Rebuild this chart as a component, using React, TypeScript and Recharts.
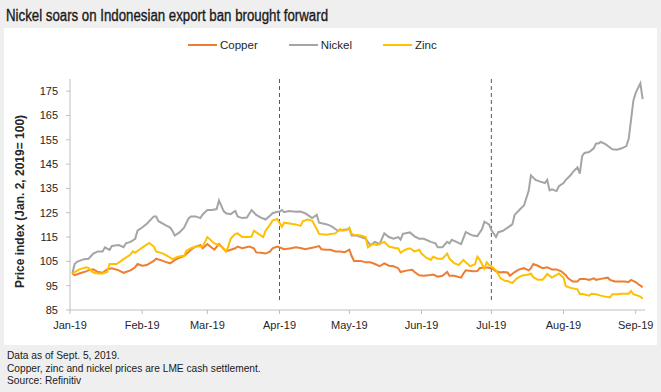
import { LineChart, Line, XAxis, YAxis, ReferenceLine, Legend } from "recharts";

// ── Data (day = days since Jan 1, 2019; value = price index, Jan 2 = 100) ──

const monthTicks = [0, 31, 59, 90, 120, 151, 181, 212, 243];
const monthLabels = ["Jan-19", "Feb-19", "Mar-19", "Apr-19", "May-19", "Jun-19", "Jul-19", "Aug-19", "Sep-19"];
const yTicks = [85, 95, 105, 115, 125, 135, 145, 155, 165, 175];
const markerDays = [90, 181];

const copper: [number, number][] = [
  [1, 100], [2, 99.3], [4, 100.0], [6, 100.6], [8, 101.3], [10, 101.7], [12, 100.6], [14, 100.3],
  [16, 101.7], [18, 102.2], [21, 101.3], [23, 100.3], [26, 101.3], [28, 102.6], [29, 103.9], [31, 103.2],
  [33, 103.5], [36, 105.2], [37, 106.1], [39, 105.5], [41, 104.8], [43, 104.2], [45, 105.5], [47, 106.5],
  [49, 107.2], [52, 109.8], [54, 111.1], [56, 111.7], [57, 110.4], [59, 112.1], [62, 109.8], [64, 112.1],
  [65, 111.1], [67, 109.1], [69, 109.8], [71, 110.4], [72, 111.1], [74, 110.4], [77, 111.1], [79, 110.4],
  [80, 108.7], [82, 108.5], [84, 108.2], [86, 109.1], [87, 110.4], [89, 111.1], [91, 110.4], [92, 110.0],
  [95, 110.4], [97, 110.8], [99, 110.5], [101, 110.0], [103, 110.4], [105, 110.8], [107, 111.3], [108, 110.0],
  [110, 109.8], [112, 109.8], [114, 109.1], [116, 109.1], [118, 108.8], [120, 109.8], [121, 107.2], [122, 105.2],
  [125, 105.2], [127, 104.6], [129, 104.6], [131, 103.9], [133, 103.0], [135, 104.2], [137, 103.2], [139, 103.0],
  [141, 102.2], [142, 100.6], [145, 101.3], [147, 101.5], [148, 100.6], [150, 99.3], [152, 99.1], [155, 99.4],
  [156, 99.6], [158, 98.7], [160, 99.1], [162, 100.6], [163, 99.1], [165, 99.1], [168, 98.3], [169, 100.0],
  [170, 101.3], [173, 100.9], [175, 101.0], [176, 102.2], [178, 102.6], [180, 102.4], [182, 101.7], [183, 100.9],
  [185, 100.4], [186, 100.6], [188, 100.4], [189, 99.1], [191, 100.6], [193, 101.7], [195, 102.2], [197, 101.3],
  [198, 102.2], [199, 103.9], [201, 103.2], [203, 102.2], [205, 102.6], [207, 101.7], [209, 101.7], [211, 100.9],
  [213, 99.3], [214, 98.0], [216, 96.7], [218, 96.7], [219, 97.8], [221, 97.8], [223, 97.4], [225, 98.0],
  [226, 97.4], [228, 97.8], [231, 98.3], [232, 97.4], [234, 96.7], [236, 96.7], [238, 96.7], [240, 96.5],
  [241, 97.4], [243, 96.5], [244, 95.7], [246, 94.4],
];

const nickel: [number, number][] = [
  [1, 100], [2, 103.9], [3, 104.8], [6, 105.9], [8, 106.1], [10, 108.2], [12, 109.1], [14, 109.1],
  [15, 110.8], [17, 109.7], [18, 111.3], [21, 111.7], [23, 110.8], [24, 112.4], [26, 113.0], [28, 114.3],
  [29, 117.6], [31, 118.9], [33, 120.5], [36, 123.5], [37, 123.5], [38, 121.5], [41, 119.9], [43, 118.9],
  [44, 117.6], [45, 115.6], [47, 116.9], [49, 118.9], [51, 122.8], [52, 123.5], [54, 123.5], [56, 122.8],
  [57, 124.3], [59, 126.1], [61, 126.1], [63, 126.5], [64, 130.0], [66, 125.7], [67, 124.8], [69, 124.4],
  [71, 125.7], [72, 123.5], [74, 122.8], [76, 123.0], [78, 126.1], [80, 124.1], [82, 123.0], [84, 122.2],
  [86, 123.9], [87, 124.8], [89, 125.4], [90, 125.4], [91, 126.1], [92, 125.2], [94, 125.7], [97, 125.4],
  [99, 125.5], [101, 124.8], [103, 123.5], [104, 122.8], [106, 124.1], [107, 120.9], [110, 120.3], [112, 119.6],
  [114, 118.3], [115, 117.6], [117, 117.9], [120, 118.3], [121, 115.6], [123, 115.6], [125, 115.0], [127, 114.3],
  [129, 111.7], [131, 113.0], [133, 112.1], [135, 116.5], [137, 115.0], [139, 114.3], [141, 115.0], [142, 113.9],
  [143, 116.3], [146, 116.9], [148, 115.3], [150, 114.3], [152, 114.3], [155, 113.0], [157, 112.4], [158, 110.8],
  [160, 110.8], [162, 113.0], [163, 112.4], [164, 113.9], [166, 113.0], [168, 112.1], [170, 117.0], [173, 115.6],
  [175, 115.4], [177, 118.3], [178, 121.3], [180, 120.2], [181, 117.9], [183, 115.0], [184, 117.0], [186, 117.6],
  [188, 118.9], [190, 120.2], [191, 124.1], [193, 126.1], [195, 128.0], [197, 133.9], [198, 140.4], [200, 138.5],
  [202, 137.8], [204, 137.2], [205, 138.5], [206, 134.2], [207, 134.6], [209, 133.9], [210, 135.9], [212, 137.2],
  [213, 138.5], [215, 140.4], [216, 141.7], [218, 143.7], [219, 141.1], [220, 148.3], [221, 149.6], [223, 150.0],
  [225, 151.5], [226, 153.5], [227, 153.5], [228, 154.1], [230, 153.2], [233, 151.1], [235, 150.9], [237, 151.5],
  [239, 152.4], [240, 155.4], [241, 163.2], [242, 171.1], [243, 174.3], [245, 178.2], [246, 171.7],
];

const zinc: [number, number][] = [
  [1, 100], [2, 100.6], [4, 101.7], [7, 102.6], [8, 102.2], [10, 100.4], [12, 100.0], [14, 100.0],
  [16, 100.6], [17, 103.9], [20, 103.9], [22, 105.2], [23, 105.9], [26, 107.8], [27, 109.1], [28, 108.5],
  [30, 110.0], [32, 111.3], [34, 112.6], [36, 111.1], [37, 109.1], [40, 108.2], [42, 107.2], [44, 105.9],
  [46, 106.8], [48, 107.2], [49, 107.2], [50, 109.4], [52, 110.4], [54, 111.1], [57, 111.1], [58, 113.0],
  [59, 115.0], [62, 112.4], [64, 111.7], [66, 110.4], [67, 109.1], [68, 111.1], [69, 114.3], [71, 116.3],
  [72, 116.5], [74, 115.0], [77, 115.0], [78, 115.2], [79, 117.6], [81, 116.3], [83, 115.0], [84, 117.6],
  [86, 120.2], [87, 121.8], [89, 122.4], [91, 119.2], [92, 120.9], [95, 120.5], [97, 120.2], [99, 119.6],
  [100, 121.5], [102, 122.2], [104, 121.8], [106, 118.3], [107, 116.3], [110, 116.0], [112, 116.3], [114, 116.5],
  [116, 118.3], [117, 117.6], [119, 117.9], [120, 118.9], [121, 116.3], [122, 116.0], [125, 115.6], [127, 115.0],
  [128, 110.8], [130, 112.1], [132, 111.7], [134, 112.6], [135, 113.0], [137, 111.1], [140, 110.4], [141, 110.4],
  [142, 108.5], [144, 109.8], [146, 110.4], [148, 109.1], [150, 109.8], [151, 108.2], [153, 106.5], [155, 105.6],
  [156, 106.9], [158, 106.1], [160, 106.1], [162, 108.2], [163, 106.1], [165, 104.3], [167, 103.5], [169, 105.6],
  [170, 104.6], [172, 103.0], [174, 103.9], [175, 106.9], [176, 105.6], [178, 102.0], [179, 104.6], [180, 103.5],
  [181, 103.0], [183, 101.3], [185, 98.0], [187, 96.9], [188, 96.9], [190, 96.1], [192, 98.0], [194, 99.1],
  [197, 99.6], [198, 100.0], [199, 98.5], [201, 97.4], [203, 97.4], [205, 99.8], [207, 98.3], [209, 99.4],
  [210, 100.0], [212, 98.3], [213, 94.8], [215, 94.1], [218, 93.5], [219, 91.5], [220, 91.7], [223, 90.9],
  [224, 91.7], [226, 91.5], [228, 90.9], [230, 90.5], [232, 90.2], [233, 91.5], [235, 91.5], [237, 91.7],
  [240, 91.7], [241, 92.8], [242, 91.5], [243, 91.2], [245, 90.5], [246, 89.6],
];

const series = [
  { name: "Copper", color: "#ED7D31", points: copper },
  { name: "Nickel", color: "#A5A5A5", points: nickel },
  { name: "Zinc", color: "#FFC000", points: zinc },
];

const toRows = (pts: [number, number][]) => pts.map(([day, value]) => ({ day, value }));

const FONT = "'Liberation Sans', Arial, sans-serif";
const TEXT = "#262626";

// ── Pieces ───────────────────────────────────────────────────────────────────

function LegendRow() {
  return (
    <div style={{ display: "flex", justifyContent: "flex-start", paddingLeft: 188 }}>
      {series.map((s, i) => (
        <div key={s.name} style={{ display: "flex", alignItems: "center", marginRight: i < 2 ? 31 : 0, fontFamily: FONT, fontSize: 11.5, color: TEXT }}>
          <span style={{ display: "inline-block", width: 29, height: 2, background: s.color, marginRight: 3 }} />
          {s.name}
        </div>
      ))}
    </div>
  );
}

function DashedMarker(p: any) {
  return <line x1={p.x1} x2={p.x2} y1={p.y1 - 10} y2={p.y2} stroke="#595959" strokeWidth={1} strokeDasharray="4 3" />;
}

function AxisTitle(p: any) {
  const vb = p.viewBox || { y: 67, height: 243 };
  const cx = 20;
  const cy = vb.y + vb.height / 2 + 7;
  return (
    <text x={cx} y={cy} transform={`rotate(-90, ${cx}, ${cy})`} textAnchor="middle" dominantBaseline="central"
      style={{ fontFamily: FONT, fontSize: 12, fontWeight: 700, fill: TEXT }}>
      Price index (Jan. 2, 2019= 100)
    </text>
  );
}

// ── Main ─────────────────────────────────────────────────────────────────────

export default function App() {
  return (
    <div style={{ position: "absolute", left: 0, top: 0, width: 661, height: 392, background: "#EFEFEF", overflow: "hidden" }}>
      <svg width={661} height={28} style={{ position: "absolute", left: 0, top: 0 }}>
        <text x={6} y={21} textLength={322} lengthAdjust="spacingAndGlyphs"
          style={{ fontFamily: FONT, fontSize: 16, fill: "#1a1a1a", stroke: "#1a1a1a", strokeWidth: 0.35 }}>
          Nickel soars on Indonesian export ban brought forward
        </text>
      </svg>
      <div style={{ position: "absolute", left: 4, top: 28, width: 653, height: 317, background: "#FFFFFF" }} />
      <div style={{ position: "absolute", left: 0, top: 0 }}>
        <LineChart width={661} height={345} margin={{ top: 67, right: 16, bottom: 5, left: 30 }}>
          <XAxis
            dataKey="day"
            type="number"
            domain={[0, 247]}
            ticks={monthTicks}
            tickFormatter={(d: number) => monthLabels[monthTicks.indexOf(d)]}
            allowDataOverflow
            height={30}
            tickSize={4}
            tickMargin={7}
            stroke="#BFBFBF"
            tick={{ fill: TEXT, fontFamily: FONT, fontSize: 11 }}
          />
          <YAxis
            dataKey="value"
            type="number"
            domain={[85, 180]}
            ticks={yTicks}
            allowDataOverflow
            width={40}
            tickSize={4}
            tickMargin={8}
            stroke="#BFBFBF"
            tick={{ fill: TEXT, fontFamily: FONT, fontSize: 11 }}
            label={{ content: AxisTitle }}
          />
          {markerDays.map((d) => (
            <ReferenceLine key={d} x={d} shape={DashedMarker} />
          ))}
          {series.map((s) => (
            <Line
              key={s.name}
              data={toRows(s.points)}
              dataKey="value"
              name={s.name}
              stroke={s.color}
              strokeWidth={2}
              dot={false}
              activeDot={false}
              isAnimationActive={false}
            />
          ))}
          <Legend verticalAlign="top" align="left" content={LegendRow} wrapperStyle={{ top: 39, left: 0, width: 661 }} />
        </LineChart>
      </div>
      <div style={{ position: "absolute", left: 7, top: 350, fontFamily: FONT, fontSize: 10.2, lineHeight: "12.5px", color: "#1a1a1a" }}>
        <div>Data as of Sept. 5, 2019.</div>
        <div>Copper, zinc and nickel prices are LME cash settlement.</div>
        <div>Source: Refinitiv</div>
      </div>
    </div>
  );
}
